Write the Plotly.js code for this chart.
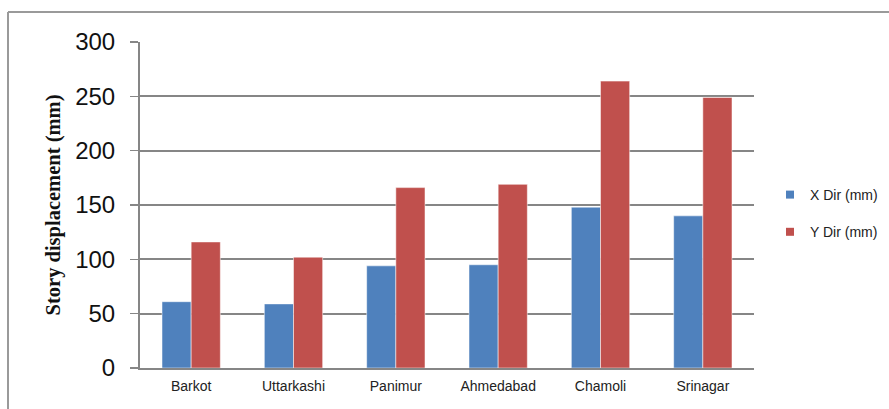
<!DOCTYPE html>
<html>
<head>
<meta charset="utf-8">
<script src="https://cdn.plot.ly/plotly-3.0.1.min.js"></script>
<style>
html,body{margin:0;padding:0;background:#fff;overflow:hidden;}
#chart{width:889px;height:409px;}
</style>
</head>
<body>
<div id="chart"></div>
<script>
const categories = ["Barkot", "Uttarkashi", "Panimur", "Ahmedabad", "Chamoli", "Srinagar"];
const xDir = [61, 59, 94, 95, 148, 140];
const yDir = [116, 102, 166, 169, 264, 249];
const seriesNames = ["X Dir (mm)", "Y Dir (mm)"];
const seriesColors = ['#4F81BD', '#C0504D'];
const yTicks = [0, 50, 100, 150, 200, 250, 300];

const W = 889, H = 409;
const L = 140, R = 0, T = 42, B = 41;
const plotRight = 754;
const pw = W - L - R, ph = H - T - B;
const px = v => (v - L) / pw;
const py = v => 1 - (v - T) / ph;

const traces = [
  {type: 'bar', x: categories, y: xDir, name: seriesNames[0], showlegend: false,
   marker: {color: seriesColors[0], line: {color: 'rgba(255,255,255,0.5)', width: 1}}},
  {type: 'bar', x: categories, y: yDir, name: seriesNames[1], showlegend: false,
   marker: {color: seriesColors[1], line: {color: 'rgba(255,255,255,0.5)', width: 1}}},
  {type: 'scatter', mode: 'markers', x: [null], y: [null], name: seriesNames[0], legendgroup: 'a',
   marker: {symbol: 'square', size: 8, color: seriesColors[0]}},
  {type: 'scatter', mode: 'markers', x: [null], y: [null], name: seriesNames[1], legendgroup: 'b',
   marker: {symbol: 'square', size: 8, color: seriesColors[1]}}
];

const layout = {
  width: W, height: H,
  margin: {l: L, r: R, t: T, b: B, pad: 0},
  paper_bgcolor: '#fff', plot_bgcolor: '#fff',
  barmode: 'group', bargap: 0.43, bargroupgap: 0,
  showlegend: true,
  legend: {x: px(770), y: py(179), xanchor: 'left', yanchor: 'top',
           font: {family: 'Liberation Sans, Arial, sans-serif', size: 14, color: '#222'},
           traceorder: 'grouped', tracegroupgap: 16, itemwidth: 30, bgcolor: 'rgba(0,0,0,0)'},
  xaxis: {type: 'category', domain: [0, px(plotRight)], showgrid: false, showline: true, linecolor: '#868686', linewidth: 2,
          ticks: '', ticklabelstandoff: 4,
          tickfont: {family: 'Liberation Sans, Arial, sans-serif', size: 14, color: '#222'},
          zeroline: false, fixedrange: true},
  yaxis: {range: [0, 300], tickvals: yTicks, ticktext: yTicks.map(String),
          showgrid: true, gridcolor: '#868686', gridwidth: 2,
          showline: true, linecolor: '#868686', linewidth: 2,
          ticks: 'outside', ticklen: 8, tickcolor: '#868686', tickwidth: 1.5,
          ticklabelstandoff: 10,
          tickfont: {family: 'Liberation Sans, Arial, sans-serif', size: 24, color: '#111'},
          zeroline: false, automargin: false,
          title: {text: 'Story displacement (mm)', standoff: 9,
                  font: {family: 'Liberation Serif, Times New Roman, serif', size: 20.5, color: '#111', weight: 'bold'}}},
  shapes: [
    {type: 'line', xref: 'paper', yref: 'paper', x0: px(8), x1: px(8), y0: py(12), y1: py(409), line: {color: '#9a9a9a', width: 2}},
    {type: 'line', xref: 'paper', yref: 'paper', x0: px(8), x1: px(889), y0: py(12), y1: py(12), line: {color: '#9a9a9a', width: 2}}
  ]
};

Plotly.newPlot('chart', traces, layout, {displayModeBar: false, staticPlot: true});
</script>
</body>
</html>
